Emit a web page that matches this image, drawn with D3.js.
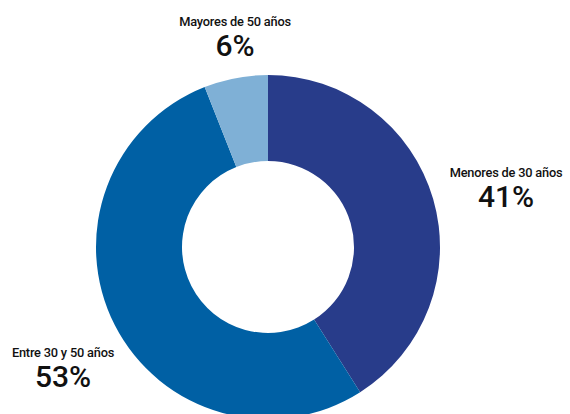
<!DOCTYPE html>
<html>
<head>
<meta charset="utf-8">
<script src="https://cdn.jsdelivr.net/npm/d3@7"></script>
<style>
  html, body { margin: 0; padding: 0; background: #ffffff; }
  svg { display: block; }
  text { font-family: Roboto, "Noto Sans", sans-serif; fill: #111111; }
</style>
</head>
<body>
<svg id="chart" width="570" height="414"></svg>
<script>
// Age groups, clockwise from 12 o'clock
const categories = ["Menores de 30 años", "Entre 30 y 50 años", "Mayores de 50 años"];
const values = [41, 53, 6];
const colors = ["#283c8a", "#0060a4", "#7fb0d6"];

// Label anchors (x centre, baseline of the category line)
const labelAnchors = [
  [506, 177],
  [63, 357],
  [235, 26]
];

const width = 570, height = 414;
const cx = 268, cy = 247;
const outerR = 172, innerR = 86;

const svg = d3.select("#chart");
const g = svg.append("g").attr("transform", `translate(${cx},${cy})`);

const pie = d3.pie().sort(null).value(d => d.value).startAngle(0).endAngle(2 * Math.PI);
const arc = d3.arc().innerRadius(innerR).outerRadius(outerR);

const data = categories.map((c, i) => ({ name: c, value: values[i], color: colors[i] }));

g.selectAll("path")
  .data(pie(data))
  .join("path")
  .attr("d", arc)
  .attr("fill", d => d.data.color);

const total = d3.sum(values);
const labels = svg.selectAll("g.label")
  .data(data)
  .join("g")
  .attr("class", "label")
  .attr("transform", (d, i) => `translate(${labelAnchors[i][0]},${labelAnchors[i][1]})`);

labels.append("text")
  .attr("text-anchor", "middle")
  .attr("font-size", 12.8)
  .attr("font-weight", 500)
  .attr("letter-spacing", -0.2)
  .text(d => d.name);

labels.append("text")
  .attr("text-anchor", "middle")
  .attr("y", 30)
  .attr("font-size", 30)
  .attr("font-weight", 500)
  .text(d => Math.round(d.value / total * 100) + "%");
</script>
</body>
</html>
